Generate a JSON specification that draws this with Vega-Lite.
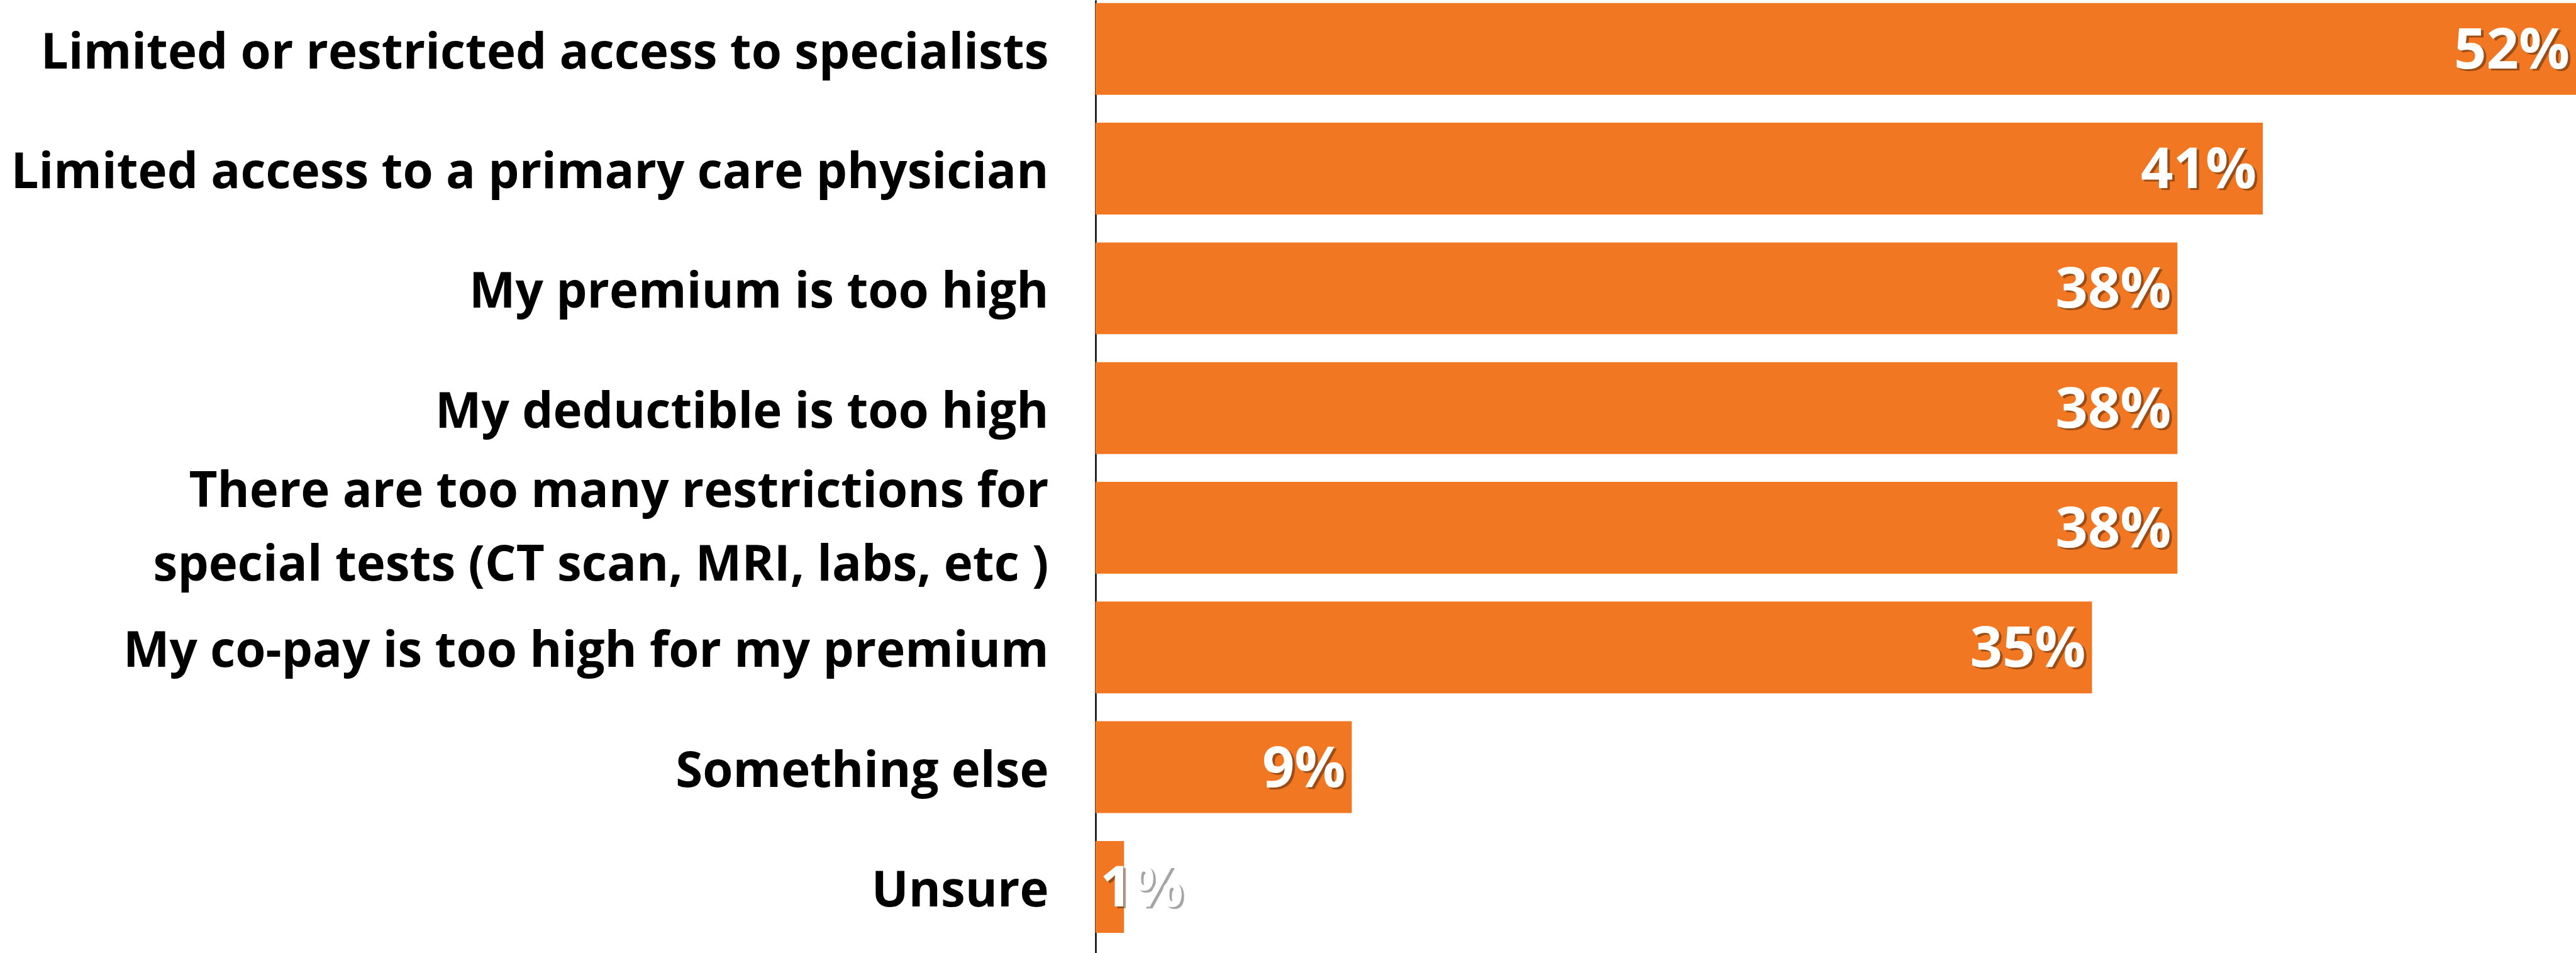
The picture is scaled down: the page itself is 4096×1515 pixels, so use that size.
{
  "$schema": "https://vega.github.io/schema/vega-lite/v6.json",
  "autosize": {"type": "none"},
  "padding": {"left": 1742, "top": 0, "right": 0, "bottom": 0},
  "width": 2354,
  "height": 1515,
  "background": "white",
  "config": {"view": {"stroke": null}},
  "data": {"values": [
    {"reason": "Limited or restricted access to specialists", "pct": 52},
    {"reason": "Limited access to a primary care physician", "pct": 41},
    {"reason": "My premium is too high", "pct": 38},
    {"reason": "My deductible is too high", "pct": 38},
    {"reason": "There are too many restrictions for special tests (CT scan, MRI, labs, etc )", "pct": 38},
    {"reason": "My co-pay is too high for my premium", "pct": 35},
    {"reason": "Something else", "pct": 9},
    {"reason": "Unsure", "pct": 1}
  ]},
  "encoding": {
    "y": {
      "field": "reason", "type": "nominal", "sort": null,
      "scale": {"paddingInner": 0.233, "paddingOuter": 0.097, "align": 0.13},
      "axis": {
        "title": null, "ticks": false, "domain": true, "domainColor": "#000000", "domainWidth": 2.5,
        "labelFont": "Open Sans", "labelFontWeight": "bold", "labelFontSize": 78, "labelColor": "#000000",
        "labelPadding": 75, "labelLimit": 0, "labelLineHeight": 117,
        "labelOffset": {"condition": {"test": "datum.value == 'There are too many restrictions for special tests (CT scan, MRI, labs, etc )'", "value": -56}, "value": 8},
        "labelExpr": "datum.value == 'There are too many restrictions for special tests (CT scan, MRI, labs, etc )' ? ['There are too many restrictions for', 'special tests (CT scan, MRI, labs, etc )'] : datum.label"
      }
    }
  },
  "layer": [
    {
      "mark": {"type": "bar", "color": "#F17722"},
      "encoding": {
        "x": {"field": "pct", "type": "quantitative", "scale": {"domain": [0, 52], "nice": false}, "axis": null}
      }
    },
    {
      "transform": [{"filter": "datum.pct >= 5"}, {"calculate": "datum.pct + '%'", "as": "lbl"}],
      "mark": {"type": "text", "align": "right", "baseline": "middle", "dx": -6, "dy": 7, "font": "Open Sans", "fontWeight": "bold", "fontSize": 90, "color": "#000000", "opacity": 0.35},
      "encoding": {
        "x": {"field": "pct", "type": "quantitative"},
        "text": {"field": "lbl"}
      }
    },
    {
      "transform": [{"filter": "datum.pct >= 5"}, {"calculate": "datum.pct + '%'", "as": "lbl"}],
      "mark": {"type": "text", "align": "right", "baseline": "middle", "dx": -10, "dy": 4, "font": "Open Sans", "fontWeight": "bold", "fontSize": 90, "color": "#FFFFFF"},
      "encoding": {
        "x": {"field": "pct", "type": "quantitative"},
        "text": {"field": "lbl"}
      }
    },
    {
      "transform": [{"filter": "datum.pct < 5"}, {"calculate": "datum.pct + '%'", "as": "lbl"}],
      "mark": {"type": "text", "align": "left", "baseline": "middle", "dx": 11, "dy": 7, "font": "Open Sans", "fontWeight": "bold", "fontSize": 90, "color": "#000000", "opacity": 0.35},
      "encoding": {
        "x": {"datum": 0, "type": "quantitative"},
        "text": {"field": "lbl"}
      }
    },
    {
      "transform": [{"filter": "datum.pct < 5"}, {"calculate": "datum.pct + '%'", "as": "lbl"}],
      "mark": {"type": "text", "align": "left", "baseline": "middle", "dx": 7, "dy": 4, "font": "Open Sans", "fontWeight": "bold", "fontSize": 90, "color": "#FFFFFF"},
      "encoding": {
        "x": {"datum": 0, "type": "quantitative"},
        "text": {"field": "lbl"}
      }
    }
  ]
}
